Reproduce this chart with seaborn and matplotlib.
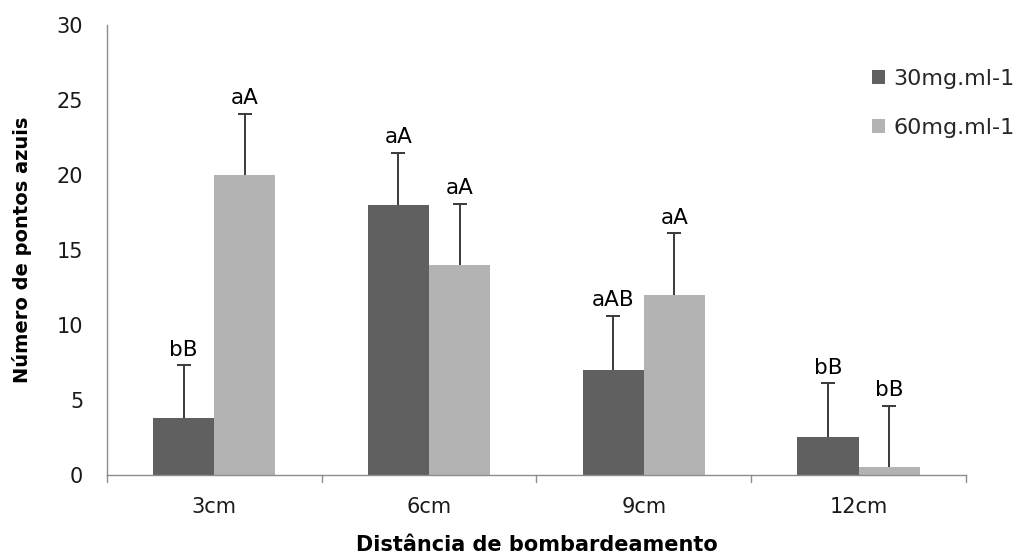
import matplotlib
matplotlib.use("Agg")
import matplotlib.pyplot as plt
import seaborn as sns
import pandas as pd
import numpy as np

categories = ["3cm", "6cm", "9cm", "12cm"]
series_names = ["30mg.ml-1", "60mg.ml-1"]
values_30 = [3.8, 18.0, 7.0, 2.5]
values_60 = [20.0, 14.0, 12.0, 0.5]
err_30 = [3.5, 3.5, 3.6, 3.6]
err_60 = [4.1, 4.1, 4.1, 4.1]
labels_30 = ["bB", "aA", "aAB", "bB"]
labels_60 = ["aA", "aA", "aA", "bB"]

df = pd.DataFrame({
    "Distância": categories * 2,
    "Valor": values_30 + values_60,
    "Dose": [series_names[0]] * 4 + [series_names[1]] * 4,
})

sns.set_theme(style="white")
plt.rcParams['font.family'] = ['DejaVu Sans']

fig = plt.figure(figsize=(10.27, 5.58), dpi=100)
ax = fig.add_axes([0.104, 0.149, 0.8366, 0.806])

palette = {series_names[0]: "#606060", series_names[1]: "#b3b3b3"}
sns.barplot(data=df, x="Distância", y="Valor", hue="Dose", order=categories,
            hue_order=series_names, palette=palette, width=0.57, errorbar=None,
            saturation=1, linewidth=0, ax=ax)

bars_30 = [p for p in ax.containers[0]]
bars_60 = [p for p in ax.containers[1]]

for bars, vals, errs, labs in [(bars_30, values_30, err_30, labels_30),
                               (bars_60, values_60, err_60, labels_60)]:
    xs = [b.get_x() + b.get_width() / 2 for b in bars]
    cont = ax.errorbar(xs, vals, yerr=[np.zeros(len(errs)), errs], fmt="none",
                       ecolor="#3a3a3a", elinewidth=1.4, capsize=4.7, capthick=1.4)
    caplines = cont[1]
    if len(caplines) == 2:
        caplines[0].remove()
    for x, v, e, l in zip(xs, vals, errs, labs):
        ax.annotate(l, (x, v + e), xytext=(0, 7), textcoords="offset points",
                    ha="center", va="baseline", fontsize=15.5, color="black")

ax.set_ylim(0, 30)
ax.set_yticks(range(0, 31, 5))
ax.set_xlim(-0.5, 3.5)
ax.set_xticks([0, 1, 2, 3])
ax.set_xticklabels(categories)
ax.tick_params(axis="both", labelsize=15, colors="#8c8c8c", labelcolor="black",
               direction="out", length=5, width=1)
ax.tick_params(axis="y", pad=12, labelcolor="#1a1a1a")
ax.tick_params(axis="x", length=0, pad=16, labelcolor="#1a1a1a")
for xb in [-0.5, 0.5, 1.5, 2.5, 3.5]:
    ax.plot([xb, xb], [0, -0.016], transform=ax.get_xaxis_transform(),
            color="#8c8c8c", lw=1, clip_on=False)

for s in ["top", "right"]:
    ax.spines[s].set_visible(False)
for s in ["left", "bottom"]:
    ax.spines[s].set_color("#8c8c8c")
    ax.spines[s].set_linewidth(1)

ax.set_xlabel("Distância de bombardeamento", fontsize=15, fontweight="bold",
              labelpad=13, color="black")
ax.set_ylabel("Número de pontos azuis", fontsize=14, fontweight="bold",
              labelpad=18, color="black")

leg = ax.legend(loc="upper left", bbox_to_anchor=(0.849, 0.876),
                bbox_transform=fig.transFigure, frameon=False,
                fontsize=16, handlelength=0.6, handleheight=0.6, handletextpad=0.35,
                labelspacing=1.3, borderaxespad=0, borderpad=0)

fig.savefig("out.png", dpi=100)
